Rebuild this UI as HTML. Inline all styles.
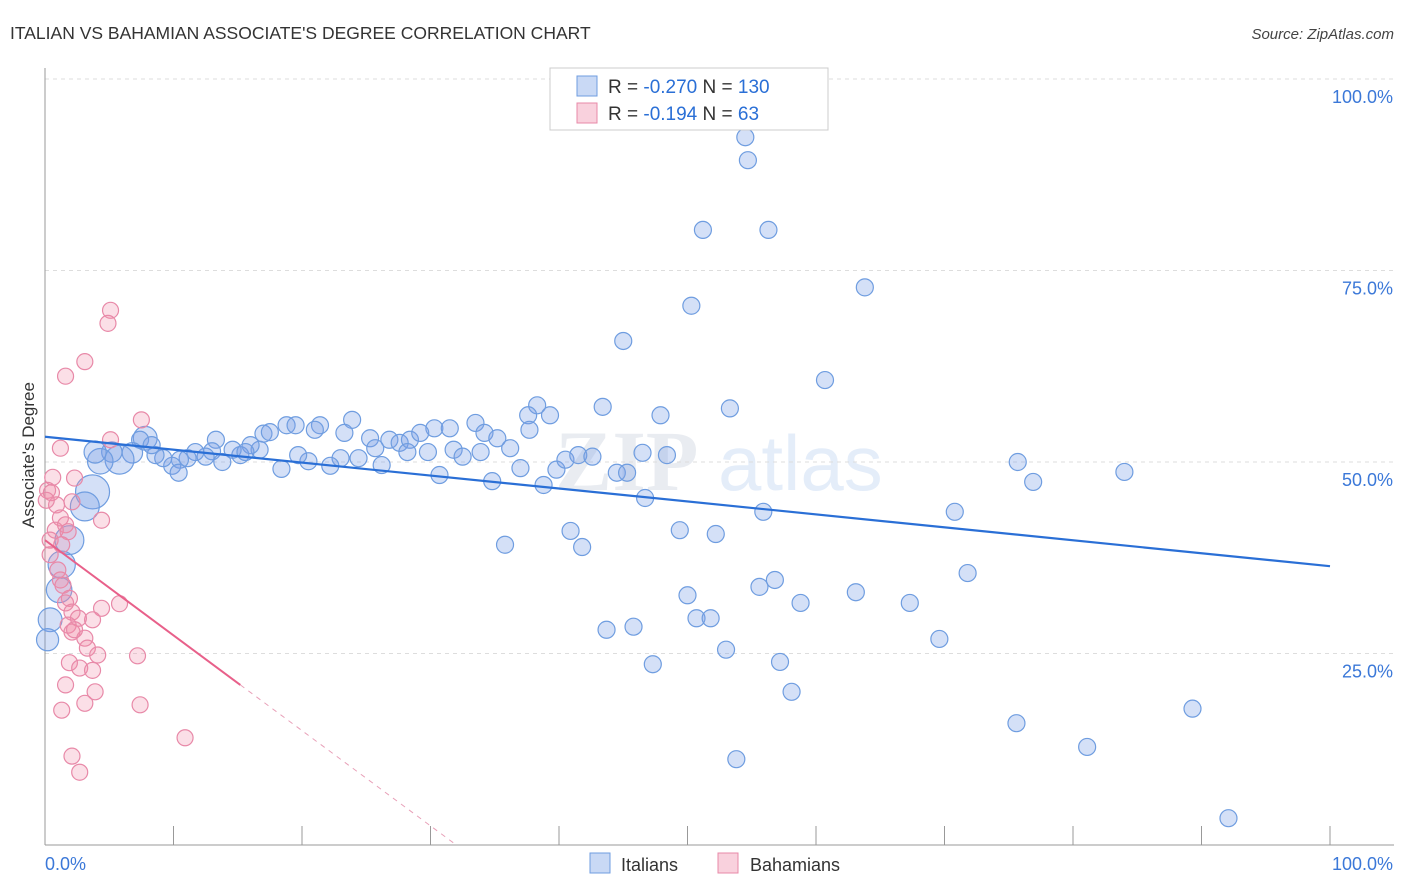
<!DOCTYPE html>
<html><head><meta charset="utf-8"><style>
body{margin:0;background:#fff;font-family:"Liberation Sans",sans-serif;}
svg{display:block}
</style></head><body>
<svg id="chart" width="1406" height="892" xmlns="http://www.w3.org/2000/svg">
<text x="10" y="39" font-size="17.5" fill="#333" font-family="Liberation Sans, sans-serif">ITALIAN VS BAHAMIAN ASSOCIATE'S DEGREE CORRELATION CHART</text>
<text x="1394" y="39" font-size="15" fill="#444" text-anchor="end" font-style="italic">Source: ZipAtlas.com</text>
<g opacity="0.18">
<text x="555" y="490" font-size="86" font-family="Liberation Serif, serif" fill="#8a9bb5" font-weight="bold">ZIP</text>
<text x="718" y="490" font-size="78" fill="#6f9de0">atlas</text>
</g>
<g id="grid"></g>
<g id="axes"></g>
<g id="marks"></g>
<g id="lines"></g>
<g>
<rect x="550" y="68" width="278" height="62" fill="#fff" stroke="#ccc"/>
<rect x="577" y="76" width="20" height="20" fill="rgba(120,160,230,0.4)" stroke="#6f9de0"/>
<text x="608" y="93" font-size="19" fill="#333">R = <tspan fill="#2a6fd6">-0.270</tspan>   N = <tspan fill="#2a6fd6">130</tspan></text>
<rect x="577" y="103" width="20" height="20" fill="rgba(240,140,170,0.4)" stroke="#e889a8"/>
<text x="608" y="120" font-size="19" fill="#333">R =  <tspan fill="#2a6fd6">-0.194</tspan>   N =   <tspan fill="#2a6fd6">63</tspan></text>
</g>
<g>
<rect x="590" y="853" width="20" height="20" fill="rgba(120,160,230,0.4)" stroke="#6f9de0"/>
<text x="621" y="871" font-size="18" fill="#333">Italians</text>
<rect x="718" y="853" width="20" height="20" fill="rgba(240,140,170,0.4)" stroke="#e889a8"/>
<text x="750" y="871" font-size="18" fill="#333">Bahamians</text>
</g>
<text transform="translate(34,455) rotate(-90)" font-size="17" fill="#333" text-anchor="middle">Associate's Degree</text>
</svg>
<script>
const blueX=[54.5,54.7,51.2,56.3,63.8,50.3,45.0,60.7,53.3,38.3,43.4,47.9,37.6,39.3,33.5,23.9,21.4,18.8,21.0,30.3,31.5,34.2,35.2,37.7,23.3,25.3,26.8,27.6,28.4,29.2,25.7,29.8,31.8,32.5,33.9,36.2,37.0,34.8,38.8,39.8,40.5,41.5,42.6,44.5,45.3,46.5,46.7,48.4,30.7,28.2,26.2,24.4,23.0,22.2,20.5,19.7,18.4,16.7,16.0,15.2,14.6,13.3,13.0,12.5,11.7,11.1,10.5,9.9,9.2,8.6,7.8,7.4,6.8,5.8,5.2,4.3,3.9,3.7,3.1,1.9,1.3,1.1,0.4,0.2,17.0,17.5,19.5,84.0,75.7,76.9,70.8,71.8,55.9,49.4,52.2,40.9,41.8,35.8,56.8,55.6,58.8,50.0,63.1,67.3,50.7,51.8,43.7,45.8,53.0,47.3,57.2,69.6,58.1,75.6,89.3,81.1,53.8,92.1,8.3,10.4,13.8,15.6];
const blueY=[92.4,89.4,80.3,80.3,72.8,70.4,65.8,60.7,57.0,57.4,57.2,56.1,56.1,56.1,55.1,55.5,54.8,54.8,54.2,54.4,54.4,53.8,53.1,54.2,53.8,53.1,52.9,52.5,52.9,53.8,51.8,51.3,51.6,50.7,51.3,51.8,49.2,47.5,47.0,49.0,50.3,50.9,50.7,48.6,48.6,51.2,45.3,50.9,48.3,51.3,49.6,50.5,50.5,49.5,50.1,50.9,49.1,51.6,52.2,50.9,51.6,52.9,51.4,50.7,51.3,50.5,50.3,49.5,50.5,50.9,53.1,52.9,51.2,50.3,51.3,50.1,51.3,46.1,44.2,39.8,36.6,33.3,29.4,26.8,53.7,53.9,54.8,48.7,50.0,47.4,43.5,35.5,43.5,41.1,40.6,41.0,38.9,39.2,34.6,33.7,31.6,32.6,33.0,31.6,29.6,29.6,28.1,28.5,25.5,23.6,23.9,26.9,20.0,15.9,17.8,12.8,11.2,3.5,52.2,48.6,50.0,51.3];
const blueSize=[1,1,1,1,1,1,1,1,1,1,1,1,1,1,1,1,1,1,1,1,1,1,1,1,1,1,1,1,1,1,1,1,1,1,1,1,1,1,1,1,1,1,1,1,1,1,1,1,1,1,1,1,1,1,1,1,1,1,1,1,1,1,1,1,1,1,1,1,1,1,1.4,1,1.2,1.7,1.2,1.5,1.3,2,1.7,1.7,1.6,1.5,1.4,1.3,1,1,1,1,1,1,1,1,1,1,1,1,1,1,1,1,1,1,1,1,1,1,1,1,1,1,1,1,1,1,1,1,1,1,1,1,1,1];
const pinkX=[5.1,4.9,3.1,1.6,7.5,5.1,1.2,0.6,0.2,0.5,0.9,0.1,2.3,2.1,1.2,1.6,0.8,4.4,1.8,0.4,1.0,1.2,1.4,1.9,1.6,2.1,4.4,5.8,3.7,2.6,1.8,2.1,3.1,3.3,4.1,7.2,1.9,2.7,3.7,1.6,3.9,3.1,7.4,1.3,10.9,2.1,2.7,0.4,2.3,1.3];
const pinkY=[69.8,68.1,63.1,61.2,55.5,52.9,51.8,48.0,46.3,46.0,44.4,45.0,47.9,44.8,42.7,41.8,41.1,42.4,40.9,37.9,35.9,34.6,33.9,32.2,31.6,30.4,30.9,31.5,29.4,29.6,28.7,27.8,27.0,25.7,24.8,24.7,23.8,23.1,22.8,20.9,20.0,18.5,18.3,17.6,14.0,11.6,9.5,39.8,28.1,39.2];
const yTicks=[25,50,75,100];
const xTickLabels=["0.0%","100.0%"];
const blueFit=[53.3,36.4]; // y at x=0 and x=100
const pinkFit=[39.8,20.9,15.2]; // y at 0, y at solid end, solid end x

const NS="http://www.w3.org/2000/svg";
const X0=45,X1=1330,Y0=845,Y100=79;
const sx=v=>X0+(X1-X0)*v/100;
const sy=v=>Y0-(Y0-Y100)*v/100;
function mk(tag,attrs,parent){const e=document.createElementNS(NS,tag);for(const k in attrs)e.setAttribute(k,attrs[k]);document.getElementById(parent).appendChild(e);return e;}

yTicks.forEach(t=>{
  const g=mk('line',{x1:X0,x2:1394,y1:sy(t),y2:sy(t),stroke:'#ddd','stroke-dasharray':'4,4'},'grid');
  
  
  const l=mk('text',{x:1393,y:sy(t)+24,'font-size':18,fill:'#3b78d8','text-anchor':'end'},'axes');
  l.textContent=t.toFixed(1)+'%';
  
  
});
const ax=mk('line',{x1:X0,x2:X0,y1:68,y2:Y0,stroke:'#999'},'axes');


const bx=mk('line',{x1:X0,x2:1394,y1:Y0,y2:Y0,stroke:'#999'},'axes');


for(let i=1;i<=10;i++){
  const t=mk('line',{x1:sx(i*10),x2:sx(i*10),y1:826,y2:Y0,stroke:'#999'},'axes');
  
  
}
xTickLabels.forEach((s,i)=>{
  const t=mk('text',{x:i?1393:45,y:870,'font-size':18,fill:'#3b78d8','text-anchor':i?'end':'start'},'axes');
  t.textContent=s;
  
  
});
blueX.forEach((v,i)=>{
  const c=mk('circle',{cx:sx(v),cy:sy(blueY[i]),r:8.5*(blueSize[i]||1),fill:'rgba(120,160,230,0.32)',stroke:'#6f9de0','stroke-width':1.2},'marks');
  
  
});
pinkX.forEach((v,i)=>{
  const c=mk('circle',{cx:sx(v),cy:sy(pinkY[i]),r:8,fill:'rgba(240,140,170,0.28)',stroke:'#e889a8','stroke-width':1.2},'marks');
  
  
});
const bl=mk('line',{x1:sx(0),y1:sy(blueFit[0]),x2:sx(100),y2:sy(blueFit[1]),stroke:'#2a6fd6','stroke-width':2.2},'lines');


const slope=(pinkFit[1]-pinkFit[0])/pinkFit[2];
const zeroX=-pinkFit[0]/slope;
const pl=mk('line',{x1:sx(0),y1:sy(pinkFit[0]),x2:sx(pinkFit[2]),y2:sy(pinkFit[1]),stroke:'#e8608a','stroke-width':2},'lines');


const pd=mk('line',{x1:sx(pinkFit[2]),y1:sy(pinkFit[1]),x2:sx(zeroX),y2:sy(0),stroke:'#e8a0b8','stroke-width':1,'stroke-dasharray':'5,5'},'lines');


</script>
</body></html>
